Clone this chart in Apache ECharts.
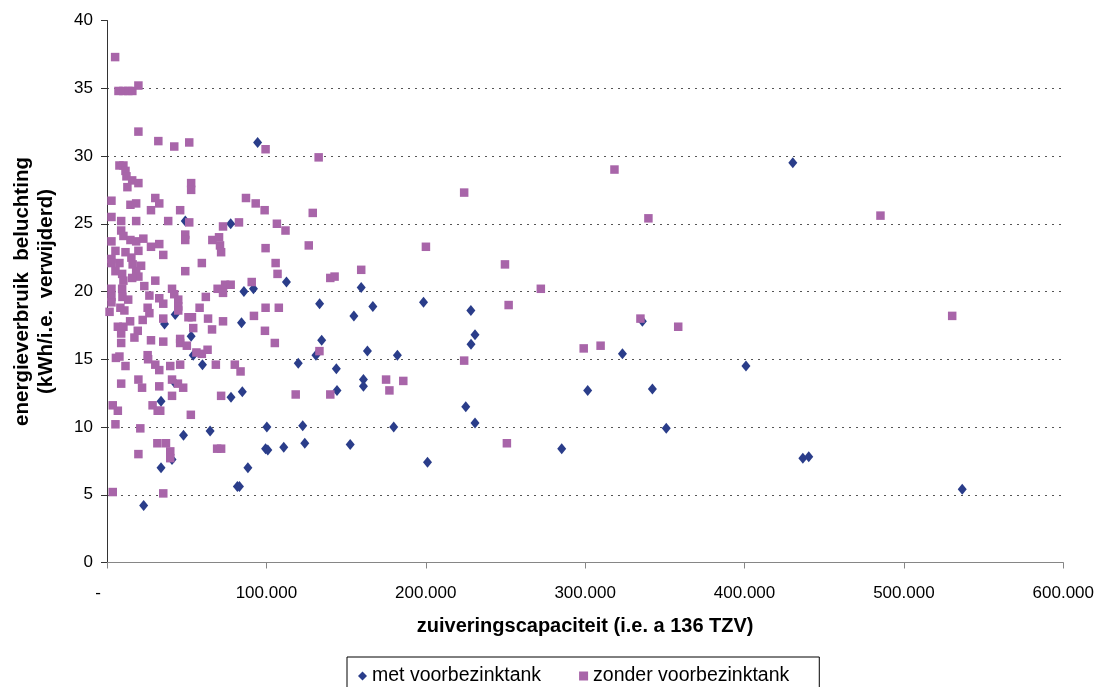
<!DOCTYPE html>
<html>
<head>
<meta charset="utf-8">
<script src="https://cdn.jsdelivr.net/npm/echarts@6/dist/echarts.min.js"></script>
<style>
  html, body { margin: 0; padding: 0; background: #ffffff; }
  #chart { width: 1097px; height: 687px; }
</style>
</head>
<body>
<div id="chart"></div>
<script>
// Series names and axis texts
const seriesNames = ['met voorbezinktank', 'zonder voorbezinktank'];
const xTickLabels = ['-', '100.000', '200.000', '300.000', '400.000', '500.000', '600.000'];
const xAxisTitle = 'zuiveringscapaciteit (i.e. a 136 TZV)';
const yAxisTitle = ['energieverbruik  beluchting', '(kWh/i.e.  verwijderd)'];

// [capaciteit (i.e.), energieverbruik (kWh/i.e. verwijderd)] — installaties met voorbezinktank
const metVoorbezinktank = [
  [94500, 31.0], [430300, 29.5], [49100, 25.2], [77600, 25.0], [112600, 20.7], [85900, 20.0],
  [91900, 20.2], [84400, 17.7], [42800, 18.3], [36100, 17.6], [52800, 16.7], [54100, 15.3],
  [59900, 14.6], [120000, 14.7], [33900, 11.9], [77800, 12.2], [84900, 12.6], [64700, 9.7],
  [48000, 9.4], [100300, 10.0], [99500, 8.4], [100900, 8.3], [110900, 8.5], [40800, 7.6],
  [33900, 7.0], [88400, 7.0], [81800, 5.6], [83100, 5.6], [23000, 4.2], [42200, 13.3],
  [159500, 20.3], [133400, 19.1], [166800, 18.9], [154900, 18.2], [198600, 19.2], [228300, 18.6],
  [134700, 16.4], [131100, 15.3], [163400, 15.6], [182200, 15.3], [143900, 14.3], [160900, 13.5],
  [230900, 16.8], [228400, 16.1], [160900, 13.0], [144300, 12.7], [122800, 10.1], [124100, 8.8],
  [152600, 8.7], [179900, 10.0], [201100, 7.4], [225100, 11.5], [230900, 10.3], [285300, 8.4],
  [301600, 12.7], [323400, 15.4], [335900, 17.8], [342200, 12.8], [350900, 9.9], [400900, 14.5],
  [436600, 7.7], [440300, 7.8], [536600, 5.4]
];

// [capaciteit (i.e.), energieverbruik (kWh/i.e. verwijderd)] — installaties zonder voorbezinktank
const zonderVoorbezinktank = [
  [5100, 37.3], [7200, 34.8], [10300, 34.8], [13400, 34.8], [15900, 34.8], [19700, 35.2],
  [19700, 31.8], [32200, 31.1], [42200, 30.7], [51600, 31.0], [99500, 30.5], [132800, 29.9],
  [7800, 29.3], [10300, 29.3], [11600, 28.9], [12200, 28.5], [15800, 28.2], [19700, 28.0],
  [12800, 27.7], [52800, 28.0], [52800, 27.5], [2800, 26.7], [30300, 26.9], [32800, 26.5],
  [14700, 26.4], [18300, 26.5], [27600, 26.0], [45900, 26.0], [87200, 26.9], [93300, 26.5],
  [98900, 26.0], [224100, 27.3], [318400, 29.0],
  [2800, 25.5], [8900, 25.2], [18300, 25.2], [38400, 25.2], [51600, 25.1], [72800, 24.8],
  [82800, 25.1], [106600, 25.0], [112000, 24.5], [129100, 25.8], [339700, 25.4], [485300, 25.6],
  [8900, 24.5], [10300, 24.1], [14700, 23.8], [18300, 23.7], [22800, 23.9], [2800, 23.7],
  [49100, 24.2], [49100, 23.8], [66100, 23.8], [70300, 24.0], [70900, 23.4], [71600, 22.9],
  [99500, 23.2], [126600, 23.4], [200100, 23.3], [32800, 23.5], [27600, 23.3], [5300, 23.0],
  [11600, 22.9], [19700, 23.0], [15300, 22.5], [35300, 22.7], [2800, 22.4],
  [2800, 22.1], [7800, 22.1], [16100, 22.0], [21400, 21.9], [59500, 22.1], [105800, 22.1],
  [249700, 22.0], [5300, 21.5], [9500, 21.3], [18300, 21.5], [19700, 21.1], [15800, 21.0],
  [49100, 21.5], [107000, 21.3], [30300, 20.8], [10300, 20.8], [9500, 20.2], [2800, 20.2],
  [23400, 20.4], [74100, 20.5], [77600, 20.5], [69400, 20.2], [72800, 19.9], [90800, 20.7],
  [40800, 20.2], [159500, 21.6], [140100, 21.0], [142800, 21.1], [272200, 20.2],
  [2800, 19.6], [2800, 19.2], [9700, 19.6], [13300, 19.4], [26600, 19.7], [32800, 19.5],
  [42200, 19.8], [44700, 19.4], [62000, 19.6],
  [35300, 19.1], [44700, 18.9], [44700, 18.6], [58100, 18.8], [99500, 18.8], [107800, 18.8],
  [252000, 19.0], [1600, 18.5], [8400, 18.8], [10900, 18.6], [25500, 18.8], [26600, 18.4],
  [92200, 18.2], [51100, 18.1], [53300, 18.1], [35300, 18.0], [6800, 17.4], [10300, 17.4],
  [14500, 17.8], [22400, 17.9], [19300, 17.1], [8900, 16.9], [8900, 16.2], [17200, 16.6],
  [27600, 16.4], [35300, 16.3], [45900, 16.5], [45900, 16.2], [50100, 16.0], [54100, 17.3],
  [63400, 18.0], [65900, 17.2], [72800, 17.8], [99100, 17.1], [105300, 16.2], [334700, 18.0],
  [358400, 17.4], [530300, 18.2],
  [5600, 15.1], [7800, 15.2], [25500, 15.3], [25800, 15.0], [56100, 15.5], [59500, 15.4],
  [63100, 15.7], [133300, 15.6], [299100, 15.8], [309700, 16.0],
  [11600, 14.5], [30300, 14.6], [39700, 14.5], [45900, 14.6], [68300, 14.6], [80200, 14.6],
  [83800, 14.1], [224100, 14.9], [32800, 14.2], [8900, 13.2], [19700, 13.5], [22000, 12.9],
  [32800, 13.0], [40800, 13.5], [44500, 13.2], [47800, 12.9], [40800, 12.3], [71600, 12.3],
  [118400, 12.4], [140100, 12.4], [175100, 13.5], [185900, 13.4], [177200, 12.7],
  [3600, 11.6], [6800, 11.2], [28600, 11.6], [31800, 11.2], [33400, 11.2], [52600, 10.9],
  [5300, 10.2], [20900, 9.9], [31600, 8.8], [37000, 8.8], [19700, 8.0], [39700, 8.2],
  [39700, 7.7], [69100, 8.4], [71600, 8.4], [250900, 8.8], [3600, 5.2], [35300, 5.1]
];

const FONT = '"Liberation Sans", Arial, sans-serif';
const chart = echarts.init(document.getElementById('chart'), null, { renderer: 'canvas' });

chart.setOption({
  animation: false,
  backgroundColor: '#ffffff',
  grid: { left: 107, right: 30, top: 20.5, bottom: 124.5 },
  xAxis: {
    type: 'value',
    min: 0,
    max: 600000,
    interval: 100000,
    axisLine: { show: true, onZero: false, lineStyle: { color: '#868686', width: 1 } },
    axisTick: { show: true, length: 6, lineStyle: { color: '#868686' } },
    splitLine: { show: false },
    axisLabel: {
      margin: 22,
      fontFamily: FONT,
      fontSize: 17,
      color: '#000',
      formatter: function (v) {
        const i = Math.round(v / 100000);
        return i === 0 ? '{d|' + xTickLabels[0] + '}' : xTickLabels[i];
      },
      rich: { d: { fontFamily: FONT, fontSize: 17, color: '#000', padding: [0, 18, 0, 0] } }
    },
    name: xAxisTitle,
    nameLocation: 'middle',
    nameGap: 54,
    nameTextStyle: { fontFamily: FONT, fontSize: 20, fontWeight: 'bold', color: '#000' }
  },
  yAxis: {
    type: 'value',
    min: 0,
    max: 40,
    interval: 5,
    axisLine: { show: true, lineStyle: { color: '#333', width: 1 } },
    axisTick: { show: true, length: 6, lineStyle: { color: '#333' } },
    splitLine: {
      show: true,
      showMinLine: false,
      showMaxLine: false,
      lineStyle: { color: '#555', type: [2, 5], width: 1 }
    },
    axisLabel: { margin: 14, fontFamily: FONT, fontSize: 17, color: '#000' },
    name: yAxisTitle.join('\n'),
    nameLocation: 'middle',
    nameRotate: 90,
    nameGap: 49,
    nameTextStyle: { fontFamily: FONT, fontSize: 20.5, fontWeight: 'bold', color: '#000', lineHeight: 24, align: 'center' }
  },
  legend: {
    top: 657,
    left: 347,
    orient: 'horizontal',
    padding: [9, 30, 10, 11],
    itemGap: 38,
    itemWidth: 9,
    itemHeight: 9,
    borderColor: '#000',
    borderWidth: 1,
    textStyle: { fontFamily: FONT, fontSize: 19.5, color: '#000' },
    data: [
      { name: seriesNames[0], icon: 'diamond' },
      { name: seriesNames[1], icon: 'rect' }
    ]
  },
  series: [
    {
      type: 'scatter',
      name: seriesNames[0],
      data: metVoorbezinktank,
      symbol: 'diamond',
      symbolSize: [9, 11],
      itemStyle: { color: '#2a3d8a', opacity: 1 }
    },
    {
      type: 'scatter',
      name: seriesNames[1],
      data: zonderVoorbezinktank,
      symbol: 'rect',
      symbolSize: 8.5,
      itemStyle: { color: '#a865a9', opacity: 1 }
    }
  ]
});
</script>
</body>
</html>
